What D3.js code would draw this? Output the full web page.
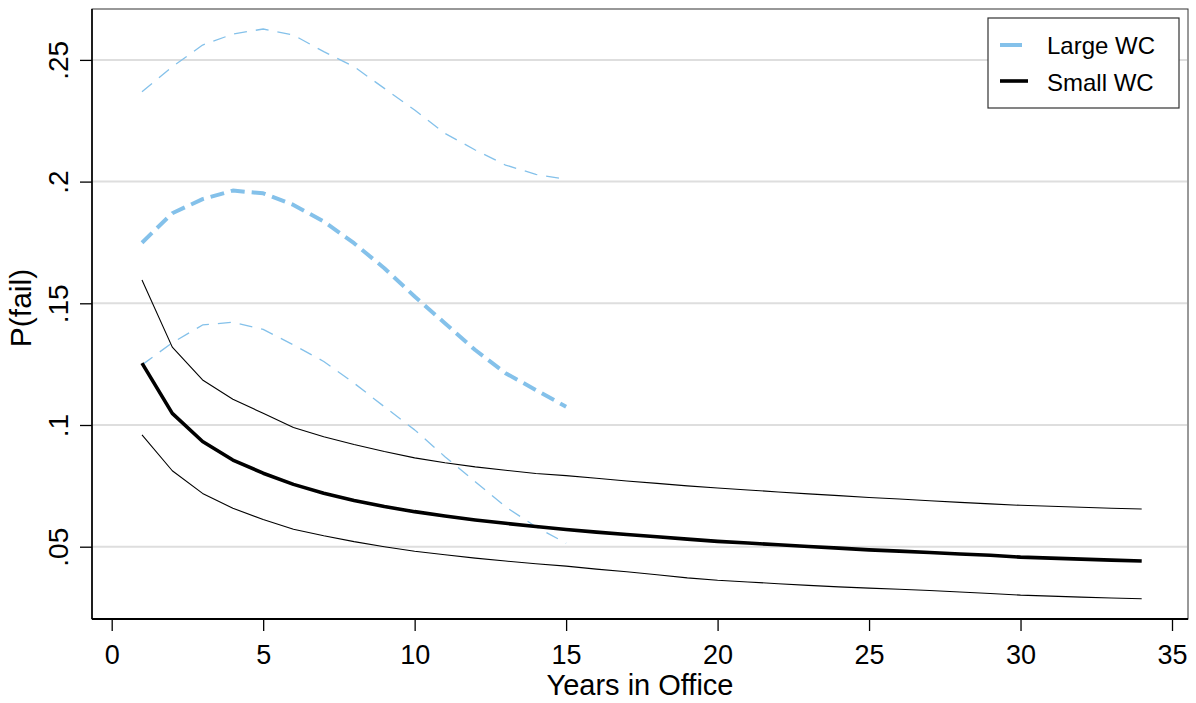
<!DOCTYPE html>
<html>
<head>
<meta charset="utf-8">
<title>P(fail) by years in office</title>
<style>
  body { margin: 0; background: #fff; }
  text { font-family: "Liberation Sans", Arial, sans-serif; fill: #000; }
</style>
</head>
<body>
<script src="https://d3js.org/d3.v7.min.js"></script>
<script>
// years in office
var yearsSmall = d3.range(1, 35);
var yearsLarge = d3.range(1, 16);

// Small WC: estimate and 95% bounds
var smallMean = [.1254, .1048, .0932, .0856, .0802, .0756, .0720, .0690, .0665, .0644,
  .0626, .0610, .0596, .0583, .0571, .0560, .0550, .0541, .0531, .0522,
  .0515, .0508, .0501, .0494, .0487, .0482, .0476, .0470, .0465, .0457,
  .0453, .0449, .0445, .0441];
var smallUpper = [.1596, .1320, .1185, .1106, .1048, .0990, .0952, .0920, .0891, .0865,
  .0845, .0828, .0814, .0801, .0792, .0781, .0770, .0760, .0750, .0741,
  .0733, .0725, .0717, .0710, .0702, .0696, .0689, .0682, .0676, .0670,
  .0666, .0662, .0658, .0655];
var smallLower = [.0959, .0812, .0719, .0658, .0612, .0572, .0545, .0521, .0500, .0481,
  .0467, .0453, .0441, .0430, .0420, .0408, .0397, .0385, .0372, .0362,
  .0355, .0348, .0341, .0335, .0330, .0325, .0320, .0314, .0308, .0301,
  .0297, .0293, .0289, .0286];

// Large WC: estimate and 95% bounds
var largeMean = [.1749, .1870, .1928, .1963, .1952, .1904, .1836, .1747, .1644, .1528,
  .1418, .1308, .1213, .1144, .1075];
var largeUpper = [.2369, .2472, .2561, .2606, .2627, .2602, .2534, .2472, .2383, .2294,
  .2198, .2130, .2068, .2030, .2009];
var largeLower = [.1247, .1338, .1411, .1422, .1393, .1329, .1261, .1172, .1075, .0980,
  .0870, .0767, .0664, .0582, .0514];

var xTicks = [0, 5, 10, 15, 20, 25, 30, 35];
var yTicks = [.05, .1, .15, .2, .25];
var yTickLabels = [".05", ".1", ".15", ".2", ".25"];
var legendLabels = ["Large WC", "Small WC"];

var width = 1196, height = 703;
var blue = "#84c1ea";
var plotL = 92, plotR = 1188, plotT = 9, plotB = 619;

var svg = d3.select("body").append("svg")
  .attr("width", width).attr("height", height);

var x = d3.scaleLinear().domain([0, 35]).range([111.7, 1172]);
var y = d3.scaleLinear().domain([0.05, 0.25]).range([546.7, 59.9]);

// plot region
svg.append("rect")
  .attr("x", plotL).attr("y", plotT)
  .attr("width", plotR - plotL).attr("height", plotB - plotT)
  .attr("fill", "#fff").attr("stroke", "#333").attr("stroke-width", 1);

// gridlines
svg.append("g").selectAll("line")
  .data(yTicks)
  .join("line")
  .attr("x1", plotL + 1).attr("x2", plotR - 1)
  .attr("y1", function(d) { return y(d); })
  .attr("y2", function(d) { return y(d); })
  .attr("stroke", "#dedede").attr("stroke-width", 2);

// x axis
var xAxis = svg.append("g").attr("transform", "translate(0," + plotB + ")");
xAxis.call(d3.axisBottom(x).tickValues(d3.range(0, 36)).tickSize(6).tickFormat(""));
xAxis.call(d3.axisBottom(x).tickValues(xTicks).tickSize(12).tickFormat(d3.format("d")));
xAxis.selectAll(".domain").remove();
xAxis.selectAll("line").attr("stroke", "#000").attr("stroke-width", 1.3);
xAxis.selectAll("text")
  .attr("y", 45).attr("dy", null)
  .style("font-size", "27px")
  .style("font-family", "'Liberation Sans', Arial, sans-serif");

// y axis
var yAxis = svg.append("g").attr("transform", "translate(" + plotL + ",0)");
yAxis.call(d3.axisLeft(y).tickValues(yTicks).tickSize(12)
  .tickFormat(function(d, i) { return yTickLabels[i]; }));
yAxis.selectAll(".domain").remove();
yAxis.selectAll("line").attr("stroke", "#000").attr("stroke-width", 1.3);
yAxis.selectAll("text")
  .attr("x", null).attr("dy", null)
  .attr("transform", "translate(-24,0) rotate(-90)")
  .attr("text-anchor", "middle")
  .style("font-size", "28px")
  .style("font-family", "'Liberation Sans', Arial, sans-serif");

// axis lines
svg.append("line").attr("x1", plotL).attr("x2", plotR).attr("y1", plotB).attr("y2", plotB)
  .attr("stroke", "#000").attr("stroke-width", 2);
svg.append("line").attr("x1", plotL).attr("x2", plotL).attr("y1", plotT).attr("y2", plotB)
  .attr("stroke", "#000").attr("stroke-width", 1.6);

// axis titles
svg.append("text")
  .attr("x", (plotL + plotR) / 2).attr("y", 695)
  .attr("text-anchor", "middle")
  .style("font-size", "29px")
  .text("Years in Office");
svg.append("text")
  .attr("transform", "translate(31,308) rotate(-90)")
  .attr("text-anchor", "middle")
  .style("font-size", "30px")
  .text("P(fail)");

// lines
var line = d3.line()
  .x(function(d) { return x(d[0]); })
  .y(function(d) { return y(d[1]); });

function series(years, vals) {
  return years.map(function(yr, i) { return [yr, vals[i]]; });
}

var lines = [
  { data: series(yearsLarge, largeUpper), color: blue, w: 1.3, dash: "13,9" },
  { data: series(yearsLarge, largeLower), color: blue, w: 1.3, dash: "13,9" },
  { data: series(yearsSmall, smallUpper), color: "#000", w: 1.1, dash: null },
  { data: series(yearsSmall, smallLower), color: "#000", w: 1.1, dash: null },
  { data: series(yearsLarge, largeMean), color: blue, w: 4, dash: "14,7" },
  { data: series(yearsSmall, smallMean), color: "#000", w: 3.6, dash: null }
];

svg.append("g").selectAll("path")
  .data(lines)
  .join("path")
  .attr("d", function(d) { return line(d.data); })
  .attr("fill", "none")
  .attr("stroke", function(d) { return d.color; })
  .attr("stroke-width", function(d) { return d.w; })
  .attr("stroke-dasharray", function(d) { return d.dash; })
  .attr("stroke-linejoin", "round");

// legend
var lg = svg.append("g");
lg.append("rect")
  .attr("x", 988).attr("y", 18).attr("width", 191).attr("height", 90)
  .attr("fill", "#fff").attr("stroke", "#333").attr("stroke-width", 1.2);
var legendItems = [
  { label: legendLabels[0], color: blue, w: 4, x2: 1022, ly: 45, ty: 54 },
  { label: legendLabels[1], color: "#000", w: 3.6, x2: 1028, ly: 81, ty: 91 }
];
lg.selectAll("line.key")
  .data(legendItems)
  .join("line")
  .attr("class", "key")
  .attr("x1", 1000).attr("x2", function(d) { return d.x2; })
  .attr("y1", function(d) { return d.ly; }).attr("y2", function(d) { return d.ly; })
  .attr("stroke", function(d) { return d.color; })
  .attr("stroke-width", function(d) { return d.w; });
lg.selectAll("text")
  .data(legendItems)
  .join("text")
  .attr("x", 1047).attr("y", function(d) { return d.ty; })
  .style("font-size", "24px")
  .text(function(d) { return d.label; });
</script>
</body>
</html>
